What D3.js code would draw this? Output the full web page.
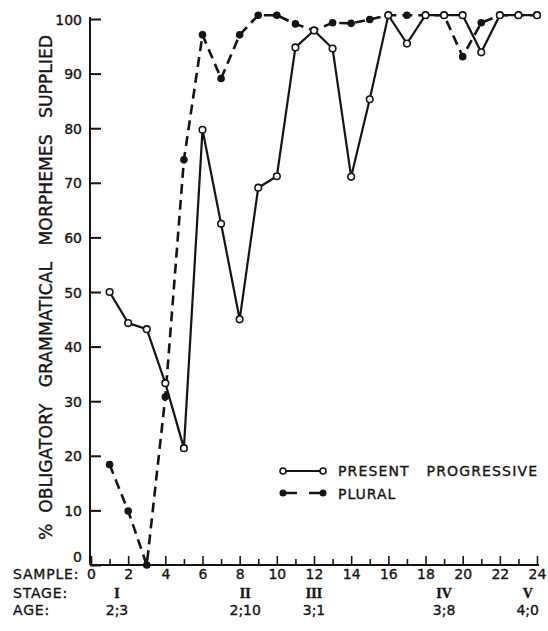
<!DOCTYPE html>
<html>
<head>
<meta charset="utf-8">
<script src="https://cdn.jsdelivr.net/npm/d3@7"></script>
<style>
  body { margin: 0; background: #fff; }
  svg text { font-family: 'DejaVu Sans', sans-serif; fill: #141414; stroke: #141414; stroke-width: 0.35; }
</style>
</head>
<body>
<div id="chart"></div>
<script>
// Data
const samples = [1, 2, 3, 4, 5, 6, 7, 8, 9, 10, 11, 12, 13, 14, 15, 16, 17, 18, 19, 20, 21, 22, 23, 24];
const progressive = [50, 44.3, 43.2, 33.3, 21.4, 79.7, 62.5, 45, 69.1, 71.2, 94.8, 97.9, 94.6, 71.1, 85.3, 100.7, 95.5, 100.7, 100.7, 100.7, 93.9, 100.7, 100.7, 100.7];
const plural = [18.4, 9.9, 0, 30.8, 74.2, 97.1, 89.1, 97.1, 100.7, 100.7, 99.1, 97.9, 99.3, 99.2, 99.9, 100.7, 100.7, 100.7, 100.7, 93.1, 99.3, 100.7, 100.7, 100.7];
const yTicks = [0, 10, 20, 30, 40, 50, 60, 70, 80, 90, 100];
const xMajor = [0, 2, 4, 6, 8, 10, 12, 14, 16, 18, 20, 22, 24];
const xMinor = [1, 3, 5, 7, 9, 11, 13, 15, 17, 19, 21, 23];
const stages = [
  { sample: 1.4, stage: 'I', age: '2;3' },
  { sample: 8.3, stage: 'II', age: '2;10' },
  { sample: 12, stage: 'III', age: '3;1' },
  { sample: 19, stage: 'IV', age: '3;8' },
  { sample: 23.5, stage: 'V', age: '4;0' },
];

const width = 548;
const height = 631;

const x = d3.scaleLinear().domain([0, 24]).range([91, 537]);
const y = d3.scaleLinear().domain([0, 100]).range([565, 19]);

const svg = d3.select('#chart')
  .append('svg')
  .attr('width', width)
  .attr('height', height);

// Y axis, ticks pointing inward
const yAxis = svg.append('g')
  .attr('transform', 'translate(90, 0)')
  .call(d3.axisLeft(y).tickValues(yTicks).tickSize(-11).tickSizeOuter(0).tickPadding(8));
yAxis.select('.domain').attr('stroke', '#141414').attr('stroke-width', 2).attr('d', `M0,${y(0)}V${y(100) - 2}`);
yAxis.selectAll('.tick line').attr('stroke', '#141414').attr('stroke-width', 2);
yAxis.selectAll('.tick text')
  .attr('font-size', 14)
  .attr('dy', d => (d === 0 ? '-0.25em' : '0.36em'));

// X axis: minor ticks
const xMinorAxis = svg.append('g')
  .attr('transform', `translate(0, ${y(0)})`)
  .call(d3.axisBottom(x).tickValues(xMinor).tickSize(-6).tickSizeOuter(0).tickFormat(''));
xMinorAxis.select('.domain').remove();
xMinorAxis.selectAll('.tick line').attr('stroke', '#141414').attr('stroke-width', 1.6);

// X axis: major ticks + labels
const xAxis = svg.append('g')
  .attr('transform', `translate(0, ${y(0)})`)
  .call(d3.axisBottom(x).tickValues(xMajor).tickSize(-9).tickSizeOuter(0).tickPadding(4));
xAxis.select('.domain').attr('stroke', '#141414').attr('stroke-width', 2).attr('d', `M${x(0) - 1},0H${x(24) + 2}`);
xAxis.selectAll('.tick line').attr('stroke', '#141414').attr('stroke-width', 1.6);
xAxis.selectAll('.tick text').attr('font-size', 14);

// Row titles under the axis
svg.append('g')
  .selectAll('text')
  .data([['SAMPLE:', 579], ['STAGE:', 598], ['AGE:', 615]])
  .enter()
  .append('text')
  .attr('x', 13)
  .attr('y', d => d[1])
  .attr('font-size', 14)
  .attr('letter-spacing', 0.8)
  .text(d => d[0]);

svg.append('g')
  .selectAll('text')
  .data(stages)
  .enter()
  .append('text')
  .attr('x', d => x(d.sample))
  .attr('y', 598)
  .attr('text-anchor', 'middle')
  .attr('font-size', 14)
  .attr('font-weight', 'bold')
  .style('font-family', "'Liberation Serif', serif")
  .text(d => d.stage);

svg.append('g')
  .selectAll('text')
  .data(stages)
  .enter()
  .append('text')
  .attr('x', d => x(d.sample))
  .attr('y', 615)
  .attr('text-anchor', 'middle')
  .attr('font-size', 14)
  .text(d => d.age);

// Y axis title
svg.append('text')
  .attr('transform', 'translate(52, 540) rotate(-90)')
  .attr('font-size', 17)
  .attr('textLength', 505)
  .attr('lengthAdjust', 'spacingAndGlyphs')
  .style('white-space', 'pre')
  .text('%  OBLIGATORY   GRAMMATICAL   MORPHEMES   SUPPLIED');

// Series
const rows = samples.map((s, i) => ({ s, prog: progressive[i], plur: plural[i] }));

const linePlural = d3.line().x(d => x(d.s)).y(d => y(d.plur));
const lineProg = d3.line().x(d => x(d.s)).y(d => y(d.prog));

svg.append('path')
  .datum(rows)
  .attr('d', linePlural)
  .attr('fill', 'none')
  .attr('stroke', '#141414')
  .attr('stroke-width', 2.6)
  .attr('stroke-dasharray', '10,6');

svg.append('path')
  .datum(rows)
  .attr('d', lineProg)
  .attr('fill', 'none')
  .attr('stroke', '#141414')
  .attr('stroke-width', 2.2);

svg.selectAll('circle.plur')
  .data(rows)
  .enter()
  .append('circle')
  .attr('class', 'plur')
  .attr('cx', d => x(d.s))
  .attr('cy', d => y(d.plur))
  .attr('r', 3.8)
  .attr('fill', '#141414');

svg.selectAll('circle.prog')
  .data(rows)
  .enter()
  .append('circle')
  .attr('class', 'prog')
  .attr('cx', d => x(d.s))
  .attr('cy', d => y(d.prog))
  .attr('r', 3.3)
  .attr('fill', '#fff')
  .attr('stroke', '#141414')
  .attr('stroke-width', 1.6);

// Legend
const legend = svg.append('g');
legend.append('line')
  .attr('x1', 283).attr('x2', 323).attr('y1', 471).attr('y2', 471)
  .attr('stroke', '#141414').attr('stroke-width', 2.2);
legend.selectAll('circle.lp')
  .data([283, 323])
  .enter()
  .append('circle')
  .attr('cx', d => d).attr('cy', 471).attr('r', 3)
  .attr('fill', '#fff').attr('stroke', '#141414').attr('stroke-width', 1.6);
legend.append('line')
  .attr('x1', 283).attr('x2', 323).attr('y1', 493).attr('y2', 493)
  .attr('stroke', '#141414').attr('stroke-width', 2.6)
  .attr('stroke-dasharray', '14,12');
legend.selectAll('circle.lf')
  .data([283, 323])
  .enter()
  .append('circle')
  .attr('cx', d => d).attr('cy', 493).attr('r', 3.5)
  .attr('fill', '#141414');
legend.append('text')
  .attr('x', 338).attr('y', 476)
  .attr('font-size', 14)
  .attr('textLength', 199)
  .style('white-space', 'pre')
  .text('PRESENT   PROGRESSIVE');
legend.append('text')
  .attr('x', 338).attr('y', 499)
  .attr('font-size', 14)
  .attr('letter-spacing', 1)
  .text('PLURAL');
</script>
</body>
</html>
